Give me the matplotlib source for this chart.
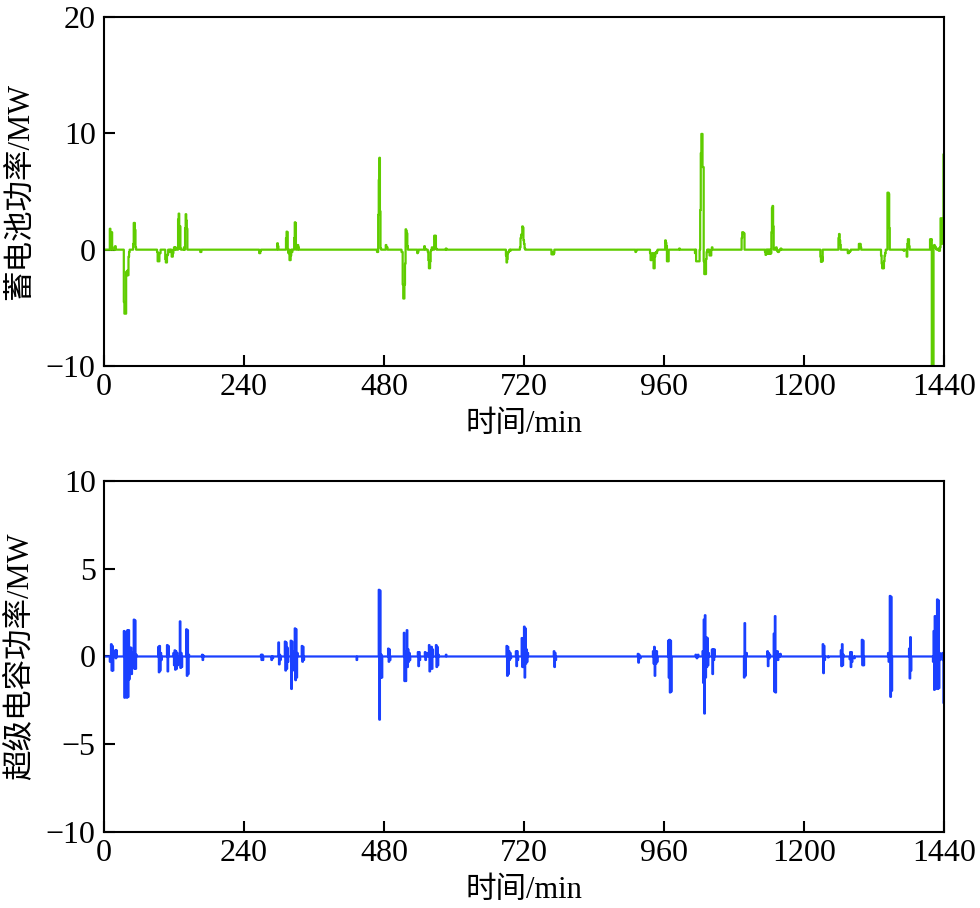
"""Battery / supercapacitor power over one day (two panels)."""
import numpy as np
import matplotlib
matplotlib.use("Agg")
import matplotlib.pyplot as plt

plt.rcParams['font.family'] = ['Liberation Serif', 'Noto Sans CJK SC', 'DejaVu Sans']
plt.rcParams['font.size'] = 22
plt.rcParams['axes.linewidth'] = 1.5

# --- data (minute, MW); everything else is 0 ---
bat_t = [10, 11, 13, 14, 19, 20,
         34, 35, 36, 37, 38, 39, 40, 41, 42, 43,
         50, 51, 52, 53, 54,
         91, 92, 93, 94, 95, 96, 97,
         105, 106, 107, 108, 109, 110,
         113, 116, 117, 118, 119, 120, 121, 122, 123,
         127, 128, 129, 130, 131, 137, 139, 140, 141, 142, 143,
         165, 166, 167,
         266, 267, 268, 269,
         297, 298, 299,
         312, 313, 314, 315, 316, 318, 319, 320, 322, 323,
         326, 327, 328, 329, 332, 333, 334,
         468, 469, 470, 471, 472, 473, 474, 483, 484, 485, 486,
         510, 511, 512, 513, 514, 515, 516, 517, 518, 519, 520, 521,
         537, 538, 539, 549, 550, 551,
         555, 556, 557, 558, 559, 560, 562, 563, 566, 567, 568, 569, 570, 586,
         689, 690, 691, 692, 693, 694, 696, 697,
         713, 714, 715, 716, 717, 718, 719, 720, 721,
         767, 768, 769, 770, 771, 772,
         911, 912, 913,
         936, 937, 938, 939, 940, 941, 942, 943, 944, 945, 946, 947, 948,
         962, 963, 964, 965, 966, 967, 968, 986,
         1013, 1015, 1016, 1017, 1018, 1019, 1020, 1021, 1022, 1023, 1024, 1025,
         1026, 1027, 1028, 1029, 1030, 1031, 1032, 1033, 1035, 1036, 1038, 1039,
         1040, 1041, 1042, 1043,
         1093, 1094, 1095, 1096, 1097, 1098,
         1133, 1134, 1136, 1138, 1140, 1142, 1143, 1144, 1145, 1146, 1147, 1148,
         1151, 1152, 1153, 1154, 1155, 1156, 1157, 1160, 1161,
         1228, 1229, 1230, 1231, 1232,
         1259, 1260, 1261, 1262, 1263,
         1275, 1276, 1277, 1278, 1279, 1280,
         1294, 1295, 1296, 1297, 1298,
         1332, 1333, 1334, 1335, 1336, 1337, 1338, 1339, 1340,
         1343, 1344, 1345, 1346, 1347,
         1371, 1372, 1376, 1377, 1378, 1379, 1380, 1381,
         1416, 1417, 1418, 1419, 1420, 1421, 1422, 1423, 1424, 1425, 1426, 1427,
         1430, 1431, 1432, 1433, 1434, 1435, 1436, 1437, 1438, 1439, 1440]
bat_p = [1.8, 1.0, 1.5, 0.2, 0.3, 0.0,
         -4.5, -5.5, -5.5, -5.5, -1.9, -2.2, -1.8, -2.2, -0.6, -0.2,
         0.5, 2.3, 2.3, 1.7, 0.2,
         -0.2, -1.0, -1.0, -1.0, -0.3, -0.3, 0.0,
         -0.8, -1.1, -1.1, -0.5, -0.4, 0.0,
         -0.2, -0.6, -0.6, -0.3, 0.0, 0.2, 0.0, 0.2, 0.0,
         2.6, 3.1, 0.1, 2.0, 0.1, 0.2, 1.85, 3.05, 2.5, 1.8, 0.0,
         -0.2, -0.2, 0.0,
         -0.3, -0.3, -0.1, 0.0,
         0.55, 0.3, 0.0,
         1.0, 1.55, 1.5, 0.0, -0.3, -0.9, -0.9, -0.5, -0.2, 0.0,
         1.0, 2.35, 2.3, 0.0, 0.4, 0.2, 0.0,
         -0.2, -0.2, 3.0, 6.0, 7.9, 3.3, 0.1, 0.4, 0.1, 0.2, 0.0,
         -0.2, -0.2, -3.0, -4.2, -4.2, -3.0, -1.2, 1.75, 1.6, 1.4, 0.3, 0.0,
         -0.3, -0.2, 0.0, 0.3, 0.1, 0.0,
         -0.2, -0.9, -1.6, -1.6, -1.0, -0.1, 0.2, 0.0, 1.2, 0.9, 1.2, 0.1, 0.0, 0.1,
         -0.5, -1.1, -0.8, -0.3, -0.2, -0.1, -0.1, 0.0,
         0.2, 1.0, 1.3, 1.3, 2.0, 1.9, 0.8, 0.5, 0.1,
         -0.4, -0.4, -0.2, -0.4, -0.3, 0.0,
         -0.2, -0.1, 0.0,
         -0.3, -0.9, -0.9, -0.5, -0.3, -0.3, -1.6, -1.6, -0.6, -0.3, -0.2, -0.3, -0.1,
         0.8, 0.6, 0.3, -1.0, -1.0, -1.0, 0.0, 0.1,
         -0.3, -1.0, -1.0, -1.0, -1.0, -1.0, -1.0, 0.0, 3.4, 8.3, 9.95, 9.95,
         7.1, 7.1, -1.0, -2.1, -2.1, -2.1, -0.8, -0.2, -0.2, 0.0, -0.5, -0.5,
         -0.5, 0.0, 0.2, 0.0,
         1.0, 1.5, 1.5, 1.4, 1.4, 0.0,
         -0.2, -0.45, -0.35, -0.35, -0.35, -0.35, -0.3, 1.5, 3.6, 3.76, 2.0, 0.0,
         0.1, 0.2, 0.0, -0.1, -0.2, -0.2, -0.1, 0.1, 0.0,
         -0.6, -1.05, -0.6, -1.0, 0.0,
         1.0, 1.35, 0.8, 0.4, 0.0,
         -0.3, -0.3, -0.2, -0.2, -0.1, 0.0,
         0.5, 0.3, 0.5, 0.2, 0.0,
         -0.5, -1.2, -1.6, -1.2, -1.6, -1.0, -0.5, -0.3, 0.0,
         4.9, 4.9, 4.8, 1.85, 0.0,
         -0.1, 0.0, -0.6, 0.5, 0.9, 0.9, 0.3, 0.0,
         0.9, 0.8, 0.9, -10.5, -10.5, -10.5, 0.3, 0.4, 0.3, 0.2, 0.1, 0.0,
         0.1, -0.1, -0.1, 0.2, 2.7, 2.7, 0.5, 1.0, 2.7, 8.2, 8.2]

sc_t = [10, 12, 13, 14, 15, 16, 19, 20, 21, 22,
        34, 35, 36, 37, 38, 39, 40, 41, 42, 43, 44, 45, 46, 47, 48, 49,
        51, 52, 53, 54, 55, 56,
        93, 94, 95, 96, 97, 98, 99,
        108, 109, 110, 111,
        119, 120, 121, 122, 123, 124, 125, 126, 127,
        130, 131, 132, 133, 134,
        141, 142, 143, 144, 145, 146,
        168, 169, 170, 171,
        269, 270, 271, 272, 273,
        287, 288, 289, 290,
        299, 300, 301, 302, 303,
        310, 311, 312, 313, 314, 315, 316,
        320, 321, 322, 323, 324, 325,
        327, 328, 329, 330, 331, 332,
        339, 340, 341, 342, 343,
        433, 434,
        471, 472, 473, 474, 475, 476, 477,
        487, 488, 489, 490, 491,
        514, 515, 516, 517, 518, 519, 520, 521, 522, 523, 524, 525,
        538, 539, 540, 541, 542,
        550, 551, 553, 554,
        557, 558, 559, 560, 561, 562, 563, 564,
        569, 570, 571, 572, 573, 574, 586, 587,
        690, 691, 692, 693, 694, 695, 696, 697, 698,
        706, 707, 708, 709, 710,
        716, 717, 718, 719, 720, 721, 722, 723, 724, 725, 726, 727,
        771, 772, 773, 774, 775,
        915, 916, 917, 919, 920,
        941, 942, 943, 944, 945, 946, 947, 948, 949,
        967, 968, 969, 970, 971, 972, 973,
        1014, 1015, 1016, 1017, 1018, 1019,
        1026, 1027, 1028, 1029, 1030, 1031, 1032, 1033, 1034, 1035, 1036, 1037,
        1042, 1043, 1044, 1045, 1046, 1047,
        1097, 1098, 1099, 1100, 1101, 1102,
        1137, 1138, 1139, 1140, 1141, 1142,
        1148, 1149, 1150, 1151, 1152,
        1154, 1155, 1156, 1157, 1159, 1160,
        1232, 1233, 1234, 1235, 1236,
        1241, 1242,
        1263, 1264, 1265, 1266, 1267, 1268,
        1278, 1279, 1280, 1281, 1282, 1283,
        1286, 1287,
        1299, 1300, 1301, 1302, 1303,
        1344, 1345, 1346, 1347, 1348, 1349, 1350, 1351,
        1380, 1381, 1382, 1383, 1384,
        1421, 1422, 1423, 1424, 1425, 1426, 1427,
        1428, 1429, 1430, 1431, 1432, 1433, 1434, 1435,
        1437, 1438, 1439, 1440]
sc_p = [-0.3, 0.7, -0.8, 0.6, -0.8, 0.0, 0.35, -0.1, 0.35, 0.0,
        1.45, -2.35, 1.4, -0.4, 1.2, -2.35, 1.5, -2.3, 1.5, -1.3, 0.5, -0.9, 0.5, -1.0, 0.2, 0.0,
        2.1, -0.7, 2.05, -0.7, 0.1, 0.0,
        0.55, -0.9, 0.6, -0.8, 0.2, -0.2, 0.0,
        0.65, -0.85, 0.6, 0.0,
        0.2, -0.5, 0.35, -0.75, 0.3, -0.7, 0.2, -0.5, 0.0,
        2.0, -0.65, 0.2, -0.6, 0.0,
        1.55, -1.1, 1.5, -1.0, 0.1, 0.0,
        0.1, -0.2, 0.05, 0.0,
        0.1, -0.2, 0.1, -0.2, 0.0,
        -0.2, 0.0, -0.1, 0.0,
        0.8, -0.45, 0.1, -0.2, 0.0,
        0.85, -0.8, 0.8, -0.7, 0.5, -0.3, 0.0,
        0.9, -1.85, 0.85, -0.8, 0.3, 0.0,
        1.6, -1.35, 1.55, -1.2, 0.2, 0.0,
        0.6, -0.3, 0.55, -0.2, 0.0,
        -0.2, 0.0,
        3.8, -3.6, 3.75, -1.2, 0.1, -1.2, 0.0,
        0.45, -0.3, 0.4, -0.2, 0.0,
        1.35, -1.4, 0.1, -1.4, 0.3, 1.5, -0.6, 0.4, -0.3, 0.2, -0.2, 0.0,
        0.25, -0.55, 0.25, -0.2, 0.0,
        0.25, -0.2, 0.2, 0.0,
        0.65, -0.85, 0.5, -0.3, 0.55, -0.7, 0.4, 0.0,
        0.65, -0.6, 0.55, -0.5, 0.1, 0.0, 0.1, 0.0,
        0.6, -1.1, 0.55, -1.0, 0.3, -0.2, 0.2, -0.1, 0.0,
        0.3, -0.55, 0.3, -0.2, 0.0,
        1.05, -0.6, 1.0, -0.6, 1.7, -1.2, 1.6, -0.4, 0.4, -0.3, 0.2, 0.0,
        0.3, -0.6, 0.2, -0.2, 0.0,
        0.15, -0.35, 0.1, -0.1, 0.0,
        0.3, -0.4, 0.55, -1.1, 0.3, -0.4, 0.3, -0.3, 0.0,
        0.9, -1.2, 0.95, -2.05, 0.9, -2.0, 0.0,
        0.1, 0.0, -0.1, 0.0, 0.1, 0.0,
        0.3, -1.5, 2.1, -3.25, 2.35, -1.2, 1.1, -0.6, 1.05, -0.5, 0.2, 0.0,
        0.4, -1.0, 0.4, -0.2, 0.4, 0.0,
        -1.2, 1.9, -1.1, 0.1, 0.2, 0.0,
        0.3, -0.55, 0.2, -0.1, 0.1, 0.0,
        1.3, -2.0, 2.3, -2.05, 0.0,
        0.3, -0.2, 0.1, 0.0, 0.15, 0.0,
        0.7, -0.95, 0.6, -0.2, 0.0,
        -0.05, 0.0,
        0.35, -0.55, 0.7, -0.5, 0.1, 0.0,
        -0.15, 0.25, -0.6, 0.25, -0.3, 0.0,
        -0.1, 0.0,
        0.95, -0.5, 0.9, -0.5, 0.0,
        0.2, -0.3, 0.2, 3.45, -2.3, 3.4, -1.95, 0.0,
        0.45, -1.25, 1.1, -0.8, 0.0,
        -0.3, 1.45, -1.9, 2.3, -1.85, 0.3, -1.1,
        3.25, -1.85, 3.2, -1.8, 0.2, -0.2, 0.1, 0.0,
        0.2, -0.2, -2.65, -2.65]

x_ticks = [0, 240, 480, 720, 960, 1200, 1440]

minutes = np.arange(0, 1441)
bat = np.zeros(len(minutes))
bat[bat_t] = bat_p
sc = np.zeros(len(minutes))
sc[sc_t] = sc_p

fig = plt.figure(figsize=(9.8, 9.08), dpi=100)
ax_top = fig.add_axes([0.1061, 0.5969, 0.8572, 0.3844])
ax_bot = fig.add_axes([0.1061, 0.0837, 0.8572, 0.3866])

ax_top.plot(minutes, bat, color="#5FCC00", lw=1.6, drawstyle="steps-post")
ax_top.set_ylim(-10, 20)
ax_top.set_yticks([-10, 0, 10, 20])
ax_top.set_ylabel("蓄电池功率/MW", labelpad=8)

ax_bot.plot(minutes, sc, color="#1A40FF", lw=1.6, drawstyle="steps-post")
ax_bot.set_ylim(-10, 10)
ax_bot.set_yticks([-10, -5, 0, 5, 10])
ax_bot.set_ylabel("超级电容功率/MW", labelpad=8)

for ax in (ax_top, ax_bot):
    ax.set_xlim(0, 1440)
    ax.set_xticks(x_ticks)
    ax.set_xlabel("时间/min", labelpad=6)
    ax.tick_params(direction="in", length=8, width=1.5,
                   top=False, right=False, labelsize=23)
    ax.tick_params(axis="x", pad=5)
    ax.tick_params(axis="y", pad=6)

fig.savefig("out.png", dpi=100)
